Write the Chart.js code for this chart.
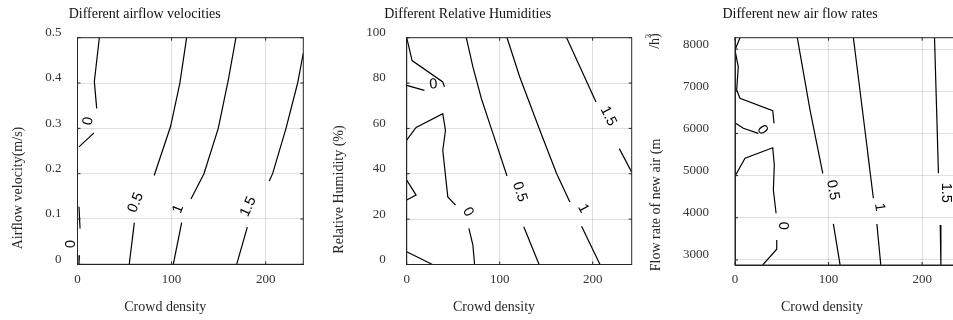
<!DOCTYPE html>
<html>
<head>
<meta charset="utf-8">
<title>Contour panels</title>
<script src="https://cdn.jsdelivr.net/npm/chart.js@4.4.1/dist/chart.umd.min.js"></script>
<style>
  html, body { margin: 0; padding: 0; background: #fff; width: 953px; height: 320px; overflow: hidden; }
  .panel { position: absolute; top: 0; height: 320px; }
</style>
</head>
<body>
<div class="panel" style="left:0"><canvas id="chartVelocity" width="320" height="320"></canvas></div>
<div class="panel" style="left:320px"><canvas id="chartHumidity" width="320" height="320"></canvas></div>
<div class="panel" style="left:640px"><canvas id="chartFreshAir" width="330" height="320"></canvas></div>
<script>
// tick labels
const densityTicks = [0, 100, 200];
const velocityTicks = [0, 0.1, 0.2, 0.3, 0.4, 0.5];
const humidityTicks = [0, 20, 40, 60, 80, 100];
const freshAirTicks = [3000, 4000, 5000, 6000, 7000, 8000];

// contour segments: [crowd density, y value], broken where the level label sits
const velocityLevel0 = [
  [[23.2, 0.5], [17.9, 0.403], [20.4, 0.344]],
  [[1.6, 0.259], [17.5, 0.29]],
  [[1.6, 0.127], [2.7, 0.079]],
  [[2, 0.02], [1.6, 0]]
];
const velocityLevel05 = [
  [[116, 0.5], [108.8, 0.4], [98.9, 0.304], [81.5, 0.196]],
  [[60.4, 0.092], [55, 0]]
];
const velocityLevel1 = [
  [[168.4, 0.5], [160.3, 0.407], [149.6, 0.3], [134.4, 0.2], [120.6, 0.144]],
  [[110.7, 0.092], [101.8, 0]]
];
const velocityLevel15 = [
  [[240, 0.466], [234, 0.4], [221.6, 0.3], [207.4, 0.2], [203.8, 0.184]],
  [[180.5, 0.082], [169.2, 0]]
];
const velocityLabels = [
  { text: '0', x: 11.5, y: 0.316, rot: -80 },
  { text: '0', x: -6.6, y: 0.045, rot: -90 },
  { text: '0.5', x: 62, y: 0.136, rot: -67 },
  { text: '1', x: 107, y: 0.122, rot: -69 },
  { text: '1.5', x: 181.5, y: 0.127, rot: -65 }
];

const humidityLevel0 = [
  [[0, 100], [5.8, 89.9], [38.8, 80.5], [40.6, 78.3]],
  [[19.1, 76.8], [0, 79]],
  [[0, 54.8], [10.1, 60.4], [38.8, 66.5], [41.7, 59.1], [38.8, 50.4], [44.2, 29.8], [52.5, 26.2]],
  [[66.9, 15.9], [71.2, 8.6], [73, 0]],
  [[0, 37.2], [10.1, 30.6], [0, 28.4]],
  [[0, 5.6], [27.7, 0]]
];
const humidityLevel05 = [
  [[64.1, 100], [71.2, 87.1], [80.3, 73.2], [92.8, 57.7], [107.9, 39]],
  [[125.9, 16.6], [142.4, 0]]
];
const humidityLevel1 = [
  [[107.9, 100], [121.6, 82.7], [143.2, 59.2], [161.2, 40.1], [175.5, 27.6]],
  [[188.1, 16.9], [207.9, 0]]
];
const humidityLevel15 = [
  [[172, 100], [203.6, 71.7]],
  [[228.7, 51.1], [242, 40.7]]
];
const humidityLabels = [
  { text: '0', x: 28.8, y: 79.4, rot: -5 },
  { text: '0', x: 65.8, y: 23.2, rot: 60 },
  { text: '0.5', x: 121.4, y: 32, rot: 72 },
  { text: '1', x: 189.9, y: 24.7, rot: 63 },
  { text: '1.5', x: 216.8, y: 65.4, rot: 63 }
];

const freshAirLevel0 = [
  [[5.3, 8268], [0, 7976], [3.5, 7580], [1.8, 7028], [5.3, 6832], [40.3, 6538], [41.7, 6239]],
  [[24.9, 6002], [8.9, 6121], [0.7, 6239]],
  [[0.7, 5014], [10.7, 5410], [40.3, 5661], [42, 5251], [41, 4658], [43.9, 4106]],
  [[44.6, 3473], [44.6, 3253], [29.6, 2881]]
];
const freshAirLevel05 = [
  [[66.6, 8268], [80.2, 6554], [93.8, 5054]],
  [[105.1, 3853], [112.3, 2881]]
];
const freshAirLevel1 = [
  [[126.5, 8268], [147.9, 4462]],
  [[151.6, 3853], [155.8, 2881]]
];
const freshAirLevel15 = [
  [[213.2, 8268], [217.4, 5054]],
  [[219.3, 3829], [220, 2881]]
];
const freshAirLabels = [
  { text: '0', x: 29.2, y: 6080, rot: 55 },
  { text: '0', x: 51.7, y: 3812, rot: 90 },
  { text: '0.5', x: 104.5, y: 4658, rot: 80 },
  { text: '1', x: 154.3, y: 4248, rot: 82 },
  { text: '1.5', x: 225.7, y: 4594, rot: 90 }
];

Chart.defaults.font.family = "'Liberation Serif', 'Times New Roman', serif";
const axisColor = '#262626';
const tickColor = '#333';
const gridColor = 'rgba(0,0,0,0.12)';

// box, inward ticks, contour level labels and the hand-placed titles
const panelDecor = {
  id: 'panelDecor',
  afterDatasetsDraw(chart, args, opts) {
    const { ctx, scales } = chart;
    ctx.save();
    ctx.fillStyle = '#000';
    ctx.font = "14.5px 'Liberation Sans', Arial, sans-serif";
    ctx.textAlign = 'center';
    ctx.textBaseline = 'middle';
    opts.labels.forEach(l => {
      ctx.save();
      ctx.translate(scales.x.getPixelForValue(l.x), scales.y.getPixelForValue(l.y));
      ctx.rotate(l.rot * Math.PI / 180);
      ctx.fillText(l.text, 0, 0);
      ctx.restore();
    });
    ctx.restore();
  },
  afterDraw(chart, args, opts) {
    const { ctx, chartArea: a, scales } = chart;
    ctx.save();
    ctx.strokeStyle = axisColor;
    ctx.lineWidth = 1;
    ctx.strokeRect(a.left, a.top, a.right - a.left, a.bottom - a.top);
    ctx.beginPath();
    scales.x.ticks.forEach(t => {
      const px = scales.x.getPixelForValue(t.value);
      ctx.moveTo(px, a.bottom); ctx.lineTo(px, a.bottom - 3);
      ctx.moveTo(px, a.top); ctx.lineTo(px, a.top + 3);
    });
    scales.y.ticks.forEach(t => {
      const py = scales.y.getPixelForValue(t.value);
      ctx.moveTo(a.left, py); ctx.lineTo(a.left + 3, py);
      ctx.moveTo(a.right, py); ctx.lineTo(a.right - 3, py);
    });
    ctx.stroke();

    ctx.textAlign = 'center';
    ctx.textBaseline = 'middle';
    ctx.fillStyle = '#111';
    ctx.font = "14px 'Liberation Serif', serif";
    ctx.fillText(opts.title, opts.titleAt[0], opts.titleAt[1]);
    ctx.fillStyle = axisColor;
    ctx.fillText('Crowd density', opts.xTitleAt[0], opts.xTitleAt[1]);
    (opts.yTitles || []).forEach(t => {
      ctx.save();
      ctx.translate(t.at[0], t.at[1]);
      ctx.rotate(-Math.PI / 2);
      ctx.font = (t.size || 14) + "px 'Liberation Serif', serif";
      ctx.fillText(t.text, 0, 0);
      ctx.restore();
    });
    ctx.restore();
  }
};

function makePanel(id, p) {
  const datasets = p.levels.flat().map(seg => ({
    data: seg.map(([x, y]) => ({ x, y })),
    showLine: true,
    borderColor: '#000',
    borderWidth: 1.2,
    pointRadius: 0,
    tension: 0
  }));
  return new Chart(document.getElementById(id), {
    type: 'scatter',
    data: { datasets },
    options: {
      responsive: false,
      animation: false,
      events: [],
      layout: { padding: { top: 37.7, right: p.padRight, left: 0, bottom: 0 } },
      plugins: {
        legend: { display: false },
        tooltip: { enabled: false },
        panelDecor: {
          labels: p.labels,
          title: p.title,
          titleAt: p.titleAt,
          xTitleAt: p.xTitleAt,
          yTitles: p.yTitles
        }
      },
      scales: {
        x: {
          type: 'linear',
          min: 0,
          max: p.xMax,
          afterBuildTicks: s => { s.ticks = densityTicks.map(v => ({ value: v })); },
          afterFit: s => { s.height = p.xHeight; },
          grid: { color: gridColor, drawTicks: false },
          border: { color: axisColor },
          ticks: { color: tickColor, font: { size: 13 }, padding: 7, maxRotation: 0, callback: v => String(v) }
        },
        y: {
          type: 'linear',
          min: p.yMin,
          max: p.yMax,
          afterBuildTicks: s => { s.ticks = p.yTicks.map(v => ({ value: v })); },
          afterFit: s => { s.width = p.yWidth; },
          grid: { color: gridColor, drawTicks: false },
          border: { color: axisColor },
          ticks: { color: tickColor, font: { size: 13 }, padding: p.yPad, labelOffset: -5, callback: v => String(v) }
        }
      }
    },
    plugins: [panelDecor]
  });
}

makePanel('chartVelocity', {
  levels: [velocityLevel0, velocityLevel05, velocityLevel1, velocityLevel15],
  labels: velocityLabels,
  xMax: 240, yMin: 0, yMax: 0.5, yTicks: velocityTicks,
  yWidth: 77.5, xHeight: 55.7, padRight: 16.7, yPad: 16,
  title: 'Different airflow velocities', titleAt: [144.7, 14],
  xTitleAt: [165.3, 307.5],
  yTitles: [{ text: 'Airflow velocity(m/s)', at: [18, 188] }]
});

makePanel('chartHumidity', {
  levels: [humidityLevel0, humidityLevel05, humidityLevel1, humidityLevel15],
  labels: humidityLabels,
  xMax: 242, yMin: 0, yMax: 100, yTicks: humidityTicks,
  yWidth: 86.7, xHeight: 55.5, padRight: 8.3, yPad: 21,
  title: 'Different Relative Humidities', titleAt: [147.7, 14],
  xTitleAt: [174, 307.5],
  yTitles: [{ text: 'Relative Humidity (%)', at: [19, 189.5] }]
});

makePanel('chartFreshAir', {
  levels: [freshAirLevel0, freshAirLevel05, freshAirLevel1, freshAirLevel15],
  labels: freshAirLabels,
  xMax: 240, yMin: 2880, yMax: 8270, yTicks: freshAirTicks,
  yWidth: 95, xHeight: 55, padRight: 10.4, yPad: 26,
  title: 'Different new air flow rates', titleAt: [160, 14.5],
  xTitleAt: [182, 307.5],
  yTitles: [
    { text: 'Flow rate of new air (m', at: [16.7, 205] },
    { text: '/h)', at: [15, 41] },
    { text: '3', at: [8.5, 36], size: 9 }
  ]
});
</script>
</body>
</html>
